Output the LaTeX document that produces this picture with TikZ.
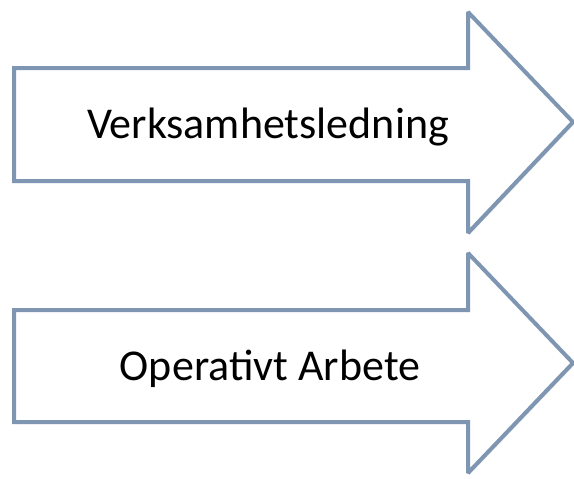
\documentclass[tikz,border=0pt]{standalone}
\usepackage{fontspec}
\setmainfont{Carlito}
\usetikzlibrary{positioning,calc,shadows}
\definecolor{arrowblue}{RGB}{127,150,178}
\tikzset{blockarr/.style={draw=arrowblue, line width=4pt, fill=white, miter limit=2,
	drop shadow={opacity=0.18, shadow xshift=1.5pt, shadow yshift=-2pt}}}
\tikzset{arrlabel/.style={font=\fontsize{44}{50}\selectfont, inner sep=0pt, anchor=base}}

\begin{document}
\begin{tikzpicture}[x=1pt,y=-1pt]
			\useasboundingbox (0,0) rectangle (574,479);
			% upper arrow
			\draw[blockarr] (14,68) -- (468,68) -- (468,12) -- (573,122)
				-- (468,233) -- (468,181) -- (14,181) -- cycle;
			\node[arrlabel] (vl) at (268,138) {Verksamhetsledning};
			% lower arrow
			\draw[blockarr] (14,310) -- (468,310) -- (468,253) -- (573,363)
				-- (468,473) -- (468,422) -- (14,422) -- cycle;
			\node[arrlabel] (oa) at (270,380) {Operativt Arbete};
		\end{tikzpicture}
\end{document}
